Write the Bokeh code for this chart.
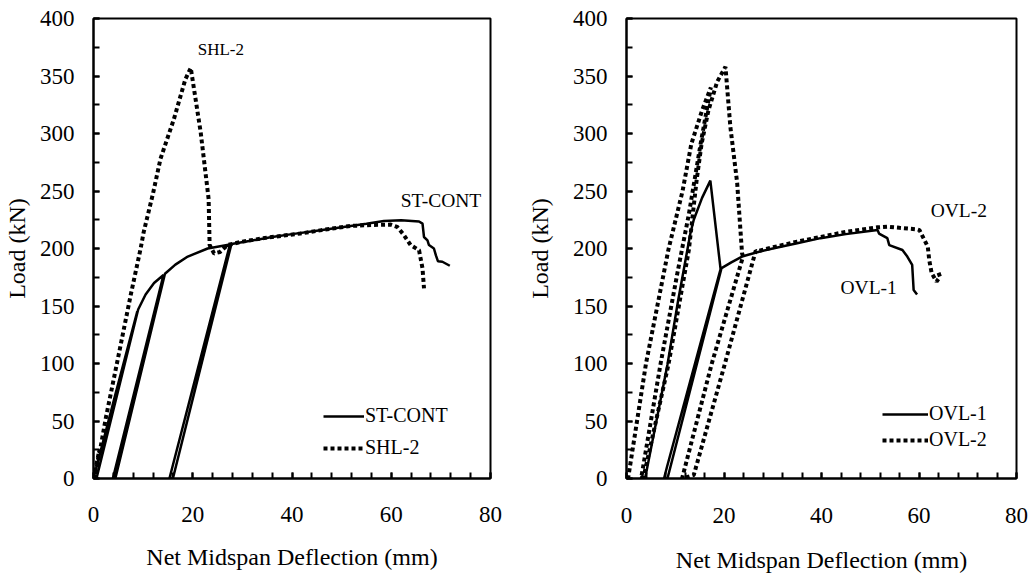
from bokeh.plotting import figure
from bokeh.models import Range1d, SingleIntervalTicker, Legend, LegendItem, ColumnDataSource
from bokeh.layouts import row
from bokeh.embed import file_html
from bokeh.resources import INLINE
from bokeh.core.properties import value

# ---------------- data ----------------
x_ticks_interval = 20
y_ticks_interval = 50

st_cont_x = [0, 4.4, 8.8, 0.6, 9.0, 10.5, 12.2, 14.1, 3.9, 4.4, 14.4, 16.5, 19.0, 23.0, 27.5,
             15.3, 16.0, 27.8, 32, 36, 40, 45, 50, 55, 58.5, 62, 65.6, 66.3, 66.6, 67.3,
             67.6, 68.6, 69.0, 69.4, 70.3, 71.8]
st_cont_y = [0, 73, 145, 0, 147, 160, 170, 177, 0, 0, 178, 186, 193, 200, 203.5,
             0, 0, 204, 207, 210, 212.5, 215.5, 218.5, 221.5, 224, 224.5, 223.5, 221.6, 210, 207,
             203, 200, 194, 189, 188.5, 185]

shl2_x = [0, 1.2, 0.3, 2.5, 5.0, 7.5, 9.5, 10.1, 12.0, 13.5, 16.2, 18.5, 19.6, 21.6, 23.2,
          23.4, 24.3, 25.5, 27.0, 30, 35, 41.7, 46, 51.8, 56, 59.9, 61.2, 62.5, 63.9, 65.6,
          66.3, 66.6]
shl2_y = [0, 25, 0, 53, 106, 159.6, 200, 214, 248, 278, 312.5, 347, 357, 301, 243,
          203, 195.7, 197, 203, 206, 209.5, 213, 216, 219.6, 220.5, 220.8, 218.8, 212, 203, 198.5,
          182.7, 165.4]

ovl1_x = [3.5, 3.9, 8.4, 10.6, 13.1, 13.8, 15.5, 17.2, 19.3, 8.3, 7.7, 8.4, 19.5, 21.5, 23.7,
          27, 30, 35, 39.8, 45, 51.5, 51.8, 53.5, 53.9, 56.6, 57.6, 58.6, 58.9, 59.6]
ovl1_y = [0, 2, 99, 155, 213, 225, 244, 259, 182, 10, 0, 0, 183, 188, 193,
          197, 200, 204.5, 209, 212.5, 216, 213, 209, 203, 198.7, 193, 185.7, 164, 160]

ovl2_x = [0, 0.4, 4.0, 8.6, 11.5, 13.3, 15.5, 17.3, 15.2, 12.8, 10.5, 7.0, 3.0, 3.6, 8.6,
          12.8, 14.4, 15.4, 16.8, 18.6, 20.3, 21.3, 22.7, 23.7, 23.9, 17.5, 11.4, 13.8, 20.2, 26.5,
          26.8, 30, 35, 39.8, 45, 51.5, 53.5, 56, 59.7, 60.1, 61.8, 62.1, 62.6, 63.6, 64.3,
          64.0]
ovl2_y = [0, 2, 100, 199, 250, 291, 320, 340, 291, 230, 180, 100, 0, 3, 99,
          199, 260, 291, 320, 345, 358, 306, 257, 196, 193, 100, 0, 3, 100, 198,
          197.5, 201, 206, 210, 214.5, 218.4, 219, 218, 216.6, 216, 201.6, 190, 178.5, 171.2, 175.5,
          179]

left_names = ["ST-CONT", "SHL-2"]
right_names = ["OVL-1", "OVL-2"]

# annotation labels: (text, x, y, font size)
left_notes = [("SHL-2", 21.0, 373, "17px"), ("ST-CONT", 61.9, 242, "19.5px")]
right_notes = [("OVL-2", 62.4, 233, "19.5px"), ("OVL-1", 43.9, 166, "19.5px")]

FONT = "'Liberation Serif', 'Times New Roman', 'DejaVu Serif', serif"


def style(p, y_title_standoff, x_label_standoff, x_title_standoff):
    p.x_range = Range1d(0, 80)
    p.y_range = Range1d(0, 400)
    p.grid.visible = False
    p.outline_line_color = "black"
    p.outline_line_width = 2
    p.xaxis.ticker = SingleIntervalTicker(interval=x_ticks_interval, num_minor_ticks=5)
    p.yaxis.ticker = SingleIntervalTicker(interval=y_ticks_interval, num_minor_ticks=2)
    for ax in (p.xaxis[0], p.yaxis[0]):
        ax.axis_line_width = 2
        ax.axis_line_color = "black"
        ax.major_tick_in = 6
        ax.major_tick_out = 0
        ax.minor_tick_in = 6
        ax.minor_tick_out = 0
        ax.major_tick_line_width = 2
        ax.minor_tick_line_width = 2
        ax.major_tick_line_color = "black"
        ax.minor_tick_line_color = "black"
        ax.major_label_text_font = FONT
        ax.major_label_text_font_size = "23px"
        ax.major_label_text_color = "black"
        ax.axis_label_text_font = FONT
        ax.axis_label_text_font_size = "24px"
        ax.axis_label_text_font_style = "normal"
        ax.axis_label_text_color = "black"
    p.xaxis.axis_label = "Net Midspan Deflection (mm)"
    p.yaxis.axis_label = "Load (kN)"
    p.xaxis.major_label_standoff = x_label_standoff
    p.xaxis.axis_label_standoff = x_title_standoff
    p.yaxis.major_label_standoff = 19
    p.yaxis.axis_label_standoff = y_title_standoff
    p.background_fill_color = "white"
    p.border_fill_color = "white"


def add_lines(p, xs1, ys1, xs2, ys2, names, notes, loc, spacing, glyph_w):
    r1 = p.line(xs1, ys1, line_color="black", line_width=2.5)
    r2 = p.line(xs2, ys2, line_color="black", line_width=4, line_dash="4 3")
    legend = Legend(items=[LegendItem(label=names[0], renderers=[r1]),
                           LegendItem(label=names[1], renderers=[r2])],
                    location=loc, orientation="vertical")
    legend.glyph_width = glyph_w
    legend.glyph_height = 20
    legend.label_standoff = 1
    legend.label_height = 20
    legend.spacing = spacing
    legend.padding = 0
    legend.margin = 0
    legend.border_line_alpha = 0
    legend.background_fill_alpha = 0
    legend.label_text_font = FONT
    legend.label_text_font_size = "20px"
    legend.label_text_color = "black"
    p.add_layout(legend, "center")
    src = ColumnDataSource(dict(t=[n[0] for n in notes], x=[n[1] for n in notes],
                                y=[n[2] for n in notes], s=[n[3] for n in notes]))
    p.text(x="x", y="y", text="t", source=src, text_font=value(FONT),
           text_font_size="s", text_color="black", text_baseline="middle",
           text_align="left")


p1 = figure(width=515, height=575, output_backend="svg", toolbar_location=None,
            min_border_left=93, min_border_right=25, min_border_top=18, min_border_bottom=93)
style(p1, 7, 28, 19)
add_lines(p1, st_cont_x, st_cont_y, shl2_x, shl2_y, left_names, left_notes, (230, 19), 9, 41)

p2 = figure(width=514, height=575, output_backend="svg", toolbar_location=None,
            min_border_left=111, min_border_right=13, min_border_top=18, min_border_bottom=96)
style(p2, 17, 29, 21)
add_lines(p2, ovl1_x, ovl1_y, ovl2_x, ovl2_y, right_names, right_notes, (256, 27), 3, 46)

layout = row(p1, p2)
open("out.html", "w").write(file_html(layout, INLINE))
